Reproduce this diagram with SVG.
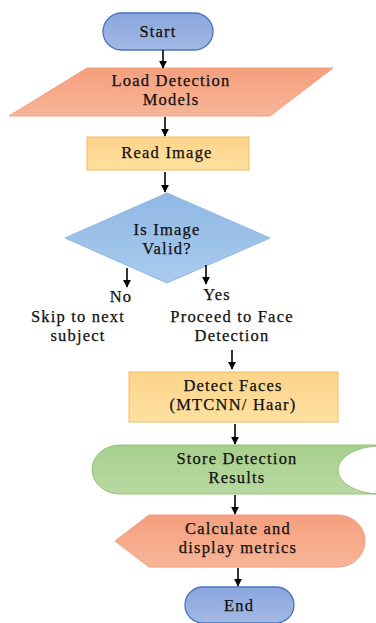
<svg xmlns="http://www.w3.org/2000/svg" width="376" height="623" viewBox="0 0 376 623">
<defs>
<marker id="ah" viewBox="0 0 10 10" refX="9" refY="5" markerWidth="8" markerHeight="8" orient="auto" markerUnits="userSpaceOnUse">
<path d="M0,0 L10,5 L0,10 z" fill="#000"/>
</marker>
<linearGradient id="gOr" x1="0" y1="0" x2="0" y2="1"><stop offset="0" stop-color="#f59f7e"/><stop offset="1" stop-color="#f7b597"/></linearGradient>
<linearGradient id="gYe" x1="0" y1="0" x2="0" y2="1"><stop offset="0" stop-color="#fdd48a"/><stop offset="1" stop-color="#fee0a0"/></linearGradient>
<linearGradient id="gBl" x1="0" y1="0" x2="0" y2="1"><stop offset="0" stop-color="#8aa6dc"/><stop offset="1" stop-color="#a3b9e6"/></linearGradient>
<linearGradient id="gDi" x1="0" y1="0" x2="0" y2="1"><stop offset="0" stop-color="#90b8e4"/><stop offset="1" stop-color="#a9cbee"/></linearGradient>
<linearGradient id="gGr" x1="0" y1="0" x2="0" y2="1"><stop offset="0" stop-color="#a6cf8c"/><stop offset="1" stop-color="#b8d9a2"/></linearGradient>
</defs>
<style>
text{font-family:"Liberation Serif","Times New Roman",serif;font-size:16.5px;fill:#111;text-anchor:middle;letter-spacing:1.2px;stroke:#111;stroke-width:0.25}
.term{fill:url(#gBl);stroke:#4a74c0;stroke-width:1.3}
.orange{fill:url(#gOr);stroke:#f3a07d;stroke-width:1}
.yellow{fill:url(#gYe);stroke:#f4bc5c;stroke-width:1}
.dia{fill:url(#gDi);stroke:#8fb6e2;stroke-width:1}
.green{fill:url(#gGr);stroke:#97c07c;stroke-width:1}
.conn line{stroke:#000;stroke-width:1.6;marker-end:url(#ah)}
</style>
<rect width="376" height="623" fill="#fff"/>
<g id="start">
<rect class="term" x="103" y="13" width="110" height="37" rx="18.5"/>
<text x="158" y="37">Start</text>
</g>
<g id="load">
<polygon class="orange" points="87,68 333,68 270,116 9,116"/>
<text x="171" y="86">Load Detection</text>
<text x="171" y="105">Models</text>
</g>
<g id="read">
<rect class="yellow" x="87" y="137" width="162" height="33"/>
<text x="167" y="158">Read Image</text>
</g>
<g id="valid">
<polygon class="dia" points="167,193 270,238 167,283 65,238"/>
<text x="167" y="235">Is Image</text>
<text x="167" y="254">Valid?</text>
</g>
<g id="no">
<text x="121" y="302">No</text>
<text x="78" y="322">Skip to next</text>
<text x="78" y="341">subject</text>
</g>
<g id="yes">
<text x="217" y="300">Yes</text>
<text x="232" y="322">Proceed to Face</text>
<text x="232" y="341">Detection</text>
</g>
<g id="detect">
<rect class="yellow" x="129" y="372" width="209" height="50"/>
<text x="233" y="391">Detect Faces</text>
<text x="233" y="410">(MTCNN/ Haar)</text>
</g>
<g id="store">
<path class="green" d="M120,445 L380,445 L380,446 A42,24 0 0 0 380,494 L120,494 A28,24.5 0 0 1 120,445 Z"/>
<text x="237" y="464">Store Detection</text>
<text x="237" y="483">Results</text>
</g>
<g id="calc">
<path class="orange" d="M115,541 L149,515 L338,515 A27,26 0 0 1 338,567 L149,567 Z"/>
<text x="238" y="534">Calculate and</text>
<text x="238" y="553">display metrics</text>
</g>
<g id="end">
<rect class="term" x="185" y="587" width="109" height="36" rx="18"/>
<text x="239" y="611">End</text>
</g>
<g class="conn" id="connectors">
<line x1="163" y1="50" x2="163" y2="68"/>
<line x1="165" y1="117" x2="165" y2="136"/>
<line x1="165" y1="172" x2="165" y2="192"/>
<line x1="127" y1="268" x2="127" y2="287"/>
<line x1="206" y1="265" x2="206" y2="284"/>
<line x1="232" y1="350" x2="232" y2="369"/>
<line x1="235" y1="424" x2="235" y2="444"/>
<line x1="235" y1="495" x2="235" y2="514"/>
<line x1="238" y1="568" x2="238" y2="586"/>
</g>
</svg>
